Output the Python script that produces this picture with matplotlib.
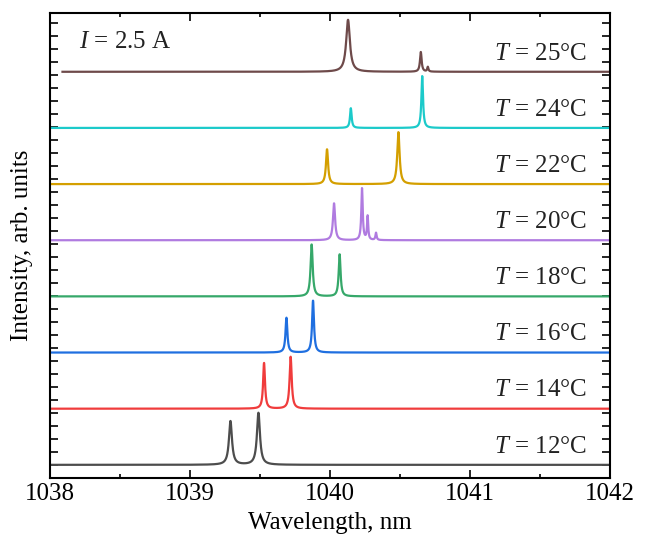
import numpy as np
import matplotlib
matplotlib.use("Agg")
import matplotlib.pyplot as plt
from matplotlib.ticker import MultipleLocator

# spectra (normalised so the highest peak of each = 1)
temps = [12, 14, 16, 18, 20, 22, 24, 25]
colors = ["#4d4d4d", "#f03c3c", "#1f6fe0", "#36a86a",
          "#b07be0", "#d49f00", "#1ccaca", "#6e4a4a"]
starts = [1038.0, 1038.0, 1038.0, 1038.0, 1038.0, 1038.0, 1038.0, 1038.09]
centers = [[1039.29, 1039.49],
           [1039.53, 1039.72],
           [1039.69, 1039.88],
           [1039.87, 1040.07],
           [1040.03, 1040.23, 1040.27, 1040.33],
           [1039.98, 1040.49],
           [1040.15, 1040.66],
           [1040.13, 1040.65, 1040.70]]
heights = [[0.84, 1.0],
           [0.88, 1.0],
           [0.67, 1.0],
           [1.0, 0.81],
           [0.71, 1.0, 0.46, 0.14],
           [0.67, 1.0],
           [0.38, 1.0],
           [1.0, 0.38, 0.09]]
widths = [[0.013, 0.013],
          [0.008, 0.009],
          [0.008, 0.008],
          [0.009, 0.008],
          [0.009, 0.006, 0.005, 0.005],
          [0.009, 0.010],
          [0.007, 0.007],
          [0.016, 0.007, 0.005]]
step = 1.08   # vertical shift between spectra

plt.rcParams['font.family'] = ['Liberation Serif', 'DejaVu Serif']
plt.rcParams['mathtext.fontset'] = 'custom'
plt.rcParams['mathtext.rm'] = 'Liberation Serif'
plt.rcParams['mathtext.it'] = 'Liberation Serif:italic'

fig = plt.figure(figsize=(6.48, 5.43), dpi=100)
ax = fig.add_axes([0.077, 0.12, 0.864, 0.856])

for i in range(len(temps)):
    wl = np.linspace(starts[i], 1042.0, 4000)
    spec = np.zeros_like(wl)
    for c, h, g in zip(centers[i], heights[i], widths[i]):
        spec += h * g**2 / ((wl - c)**2 + g**2)
    ax.plot(wl, spec + i*step, color=colors[i], lw=1.6)
    ax.text(1041.835, i*step + 0.35, r'$T$ = %d°C' % temps[i],
            ha='right', va='center', fontsize=18, color='#222222')

ax.text(1038.21, 8.13, r'$I$ = 2.5 A', ha='left', va='center',
        fontsize=18, color='#222222')

ax.set_xlim(1038, 1042)
ax.set_ylim(-0.25, 8.69)
ax.xaxis.set_major_locator(MultipleLocator(1))
ax.xaxis.set_minor_locator(MultipleLocator(0.5))
ax.yaxis.set_major_locator(MultipleLocator(0.25))
ax.set_yticklabels([])
ax.tick_params(direction='in', top=True, right=True, width=1.2,
               labelsize=18, length=6)
ax.tick_params(axis='x', which='minor', direction='in', top=True,
               length=3, width=1.2)
for s in ax.spines.values():
    s.set_linewidth(1.5)

ax.set_xlabel('Wavelength, nm', fontsize=18, labelpad=5)
ax.set_ylabel('Intensity, arb. units', fontsize=18, labelpad=9)

fig.savefig('out.png', dpi=100)
